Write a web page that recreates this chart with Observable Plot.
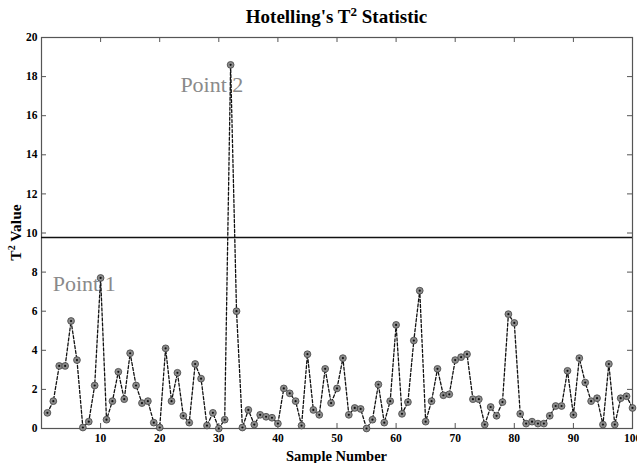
<!DOCTYPE html>
<html>
<head>
<meta charset="utf-8">
<script src="https://cdn.jsdelivr.net/npm/d3@7"></script>
<script src="https://cdn.jsdelivr.net/npm/@observablehq/plot@0.6"></script>
<style>
  html, body { margin: 0; padding: 0; background: #fff; }
</style>
</head>
<body>
<div id="chart"></div>
<script>
// ---- data ----
const t2Values = [
  0.8, 1.4, 3.2, 3.2, 5.5, 3.5, 0.05, 0.35, 2.2, 7.7,
  0.45, 1.4, 2.9, 1.5, 3.85, 2.2, 1.3, 1.4, 0.3, 0.05,
  4.1, 1.4, 2.85, 0.65, 0.3, 3.3, 2.55, 0.15, 0.8, 0.0,
  0.45, 18.6, 6.0, 0.05, 0.95, 0.2, 0.7, 0.6, 0.55, 0.25,
  2.05, 1.8, 1.4, 0.15, 3.8, 0.95, 0.7, 3.05, 1.3, 2.05,
  3.6, 0.7, 1.05, 1.0, 0.0, 0.45, 2.25, 0.3, 1.4, 5.3,
  0.75, 1.35, 4.5, 7.05, 0.35, 1.4, 3.05, 1.7, 1.75, 3.5,
  3.65, 3.8, 1.5, 1.5, 0.2, 1.1, 0.65, 1.35, 5.85, 5.4,
  0.75, 0.25, 0.35, 0.25, 0.25, 0.65, 1.15, 1.15, 2.95, 0.7,
  3.6, 2.35, 1.4, 1.55, 0.2, 3.3, 0.2, 1.55, 1.65, 1.05
];
const sampleNumbers = t2Values.map((_, i) => i + 1);
const threshold = [9.77];
const xTicks = [10, 20, 30, 40, 50, 60, 70, 80, 90, 100];
const yTicks = [0, 2, 4, 6, 8, 10, 12, 14, 16, 18, 20];
const annotLabels = ["Point 1", "Point 2"];
const annotX = [1.9, 23.5];
const annotY = [7.4, 17.55];

const titleText = "Hotelling's T";
const titleSup = "2";
const titleRest = " Statistic";
const xLabel = "Sample Number";
const yLabelMain = "T";
const yLabelSup = "2";
const yLabelRest = " Value";

const points = sampleNumbers.map((s, i) => ({sample: s, value: t2Values[i]}));
const annots = annotLabels.map((t, i) => ({text: t, x: annotX[i], y: annotY[i]}));

const W = 637, H = 463;
const mL = 41, mR = 5, mT = 37, mB = 35;
const innerW = W - mL - mR, innerH = H - mT - mB;
const tickLen = 5;
const serif = "'Liberation Serif', 'Times New Roman', serif";

const plot = Plot.plot({
  width: W,
  height: H,
  marginLeft: mL,
  marginRight: mR,
  marginTop: mT,
  marginBottom: mB,
  style: {fontFamily: serif, fontSize: "11.5px", fontWeight: "bold", color: "#000", background: "#fff"},
  x: {domain: [0, 100]},
  y: {domain: [0, 20]},
  marks: [
    // inward ticks on all four sides
    Plot.tickY(yTicks, {y: d => d, stroke: "#555", insetRight: innerW - tickLen}),
    Plot.tickY(yTicks, {y: d => d, stroke: "#555", insetLeft: innerW - tickLen}),
    Plot.tickX(xTicks, {x: d => d, stroke: "#555", insetTop: innerH - tickLen}),
    Plot.tickX(xTicks, {x: d => d, stroke: "#555", insetBottom: innerH - tickLen}),
    Plot.axisY({ticks: yTicks, tickSize: 0, tickPadding: 4, label: null, fontWeight: "bold"}),
    Plot.axisX({ticks: xTicks, tickSize: 0, tickPadding: 5, label: null, fontWeight: "bold"}),
    Plot.frame({stroke: "#555", strokeWidth: 1.2}),
    Plot.ruleY(threshold, {stroke: "#111", strokeWidth: 1.3}),
    Plot.line(points, {x: "sample", y: "value", stroke: "#111", strokeWidth: 1.3, strokeDasharray: "3,2"}),
    Plot.dot(points, {x: "sample", y: "value", r: 3.4, fill: "#8c8c8c", stroke: "#444", strokeWidth: 0.8}),
    Plot.dot(points, {x: "sample", y: "value", r: 1.1, fill: "#111", stroke: "none"}),
    Plot.text(annots, {x: "x", y: "y", text: "text", textAnchor: "start", fill: "#8a8a8a",
      fontSize: 22, fontWeight: "normal", fontFamily: serif})
  ]
});

const svg = d3.select(plot);
// title with superscript
const title = svg.append("text")
  .attr("x", mL + innerW / 2)
  .attr("y", 23)
  .attr("text-anchor", "middle")
  .attr("font-family", serif)
  .attr("font-weight", "bold")
  .attr("font-size", 19)
  .attr("fill", "#000");
title.append("tspan").text(titleText);
title.append("tspan").attr("dy", -7).attr("font-size", 13).text(titleSup);
title.append("tspan").attr("dy", 7).text(titleRest);

// x label
svg.append("text")
  .attr("x", mL + innerW / 2)
  .attr("y", H - 2)
  .attr("text-anchor", "middle")
  .attr("font-family", serif)
  .attr("font-weight", "bold")
  .attr("font-size", 14.5)
  .attr("fill", "#000")
  .text(xLabel);

// y label (rotated) with superscript
const yl = svg.append("text")
  .attr("transform", `translate(21,${mT + innerH / 2}) rotate(-90)`)
  .attr("text-anchor", "middle")
  .attr("font-family", serif)
  .attr("font-weight", "bold")
  .attr("font-size", 15.5)
  .attr("fill", "#000");
yl.append("tspan").text(yLabelMain);
yl.append("tspan").attr("dy", -6).attr("font-size", 10).text(yLabelSup);
yl.append("tspan").attr("dy", 6).text(yLabelRest);

document.getElementById("chart").appendChild(plot);
</script>
</body>
</html>
